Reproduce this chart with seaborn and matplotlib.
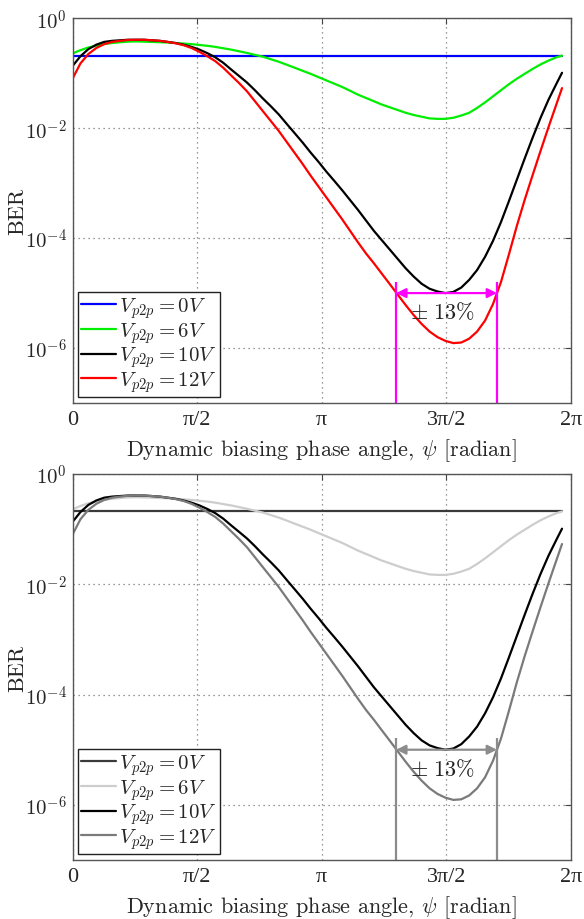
import numpy as np
import pandas as pd
import matplotlib
matplotlib.use("Agg")
import matplotlib.pyplot as plt
from matplotlib.ticker import NullLocator
import seaborn as sns

# ---------------- data ----------------
psi = [0.0, 0.1, 0.2, 0.3, 0.4, 0.5, 0.6, 0.7, 0.8, 0.9,
       1.0, 1.1, 1.2, 1.3, 1.4, 1.5, 1.6, 1.7, 1.8, 1.9,
       2.0, 2.1, 2.2, 2.3, 2.4, 2.5, 2.6, 2.7, 2.8, 2.9,
       3.0, 3.1, 3.2, 3.3, 3.4, 3.5, 3.6, 3.7, 3.8, 3.9,
       4.0, 4.1, 4.2, 4.3, 4.4, 4.5, 4.6, 4.7, 4.8, 4.9,
       5.0, 5.1, 5.2, 5.3, 5.4, 5.5, 5.6, 5.7, 5.8, 5.9,
       6.0, 6.1, 6.17]

psi_0V = [0.0, 6.17]
ber_0V = [0.21, 0.21]

ber_6V = [0.229, 0.263, 0.295, 0.316, 0.339, 0.355, 0.367, 0.376, 0.380, 0.376,
          0.372, 0.367, 0.363, 0.355, 0.347, 0.339, 0.327, 0.316, 0.302, 0.285,
          0.269, 0.251, 0.234, 0.216, 0.200, 0.180, 0.162, 0.143, 0.126, 0.111,
          0.0977, 0.0851, 0.0741, 0.0646, 0.0562, 0.0479, 0.0407, 0.0355, 0.0309, 0.0269,
          0.0240, 0.0214, 0.0191, 0.0174, 0.0162, 0.0151, 0.0148, 0.0148, 0.0155, 0.0170,
          0.0191, 0.0234, 0.0295, 0.0380, 0.0490, 0.0631, 0.0794, 0.0977, 0.120, 0.145,
          0.170, 0.195, 0.209]

ber_10V = [0.135, 0.204, 0.275, 0.331, 0.372, 0.389, 0.398, 0.407, 0.407, 0.407,
           0.398, 0.389, 0.372, 0.355, 0.331, 0.302, 0.269, 0.232, 0.195, 0.155,
           0.117, 0.0891, 0.0676, 0.0490, 0.0347, 0.0251, 0.0178, 0.0120, 8.13e-3, 5.50e-3,
           3.63e-3, 2.45e-3, 1.62e-3, 1.10e-3, 7.41e-4, 4.90e-4, 3.24e-4, 2.09e-4, 1.35e-4, 9.12e-5,
           6.17e-5, 4.17e-5, 2.82e-5, 2.00e-5, 1.48e-5, 1.20e-5, 1.07e-5, 1.00e-5, 1.05e-5, 1.26e-5,
           1.74e-5, 2.63e-5, 4.57e-5, 8.91e-5, 1.95e-4, 4.68e-4, 1.15e-3, 2.82e-3, 6.76e-3, 1.55e-2,
           3.31e-2, 6.46e-2, 0.102]

ber_12V = [0.0794, 0.151, 0.224, 0.288, 0.339, 0.372, 0.389, 0.403, 0.407, 0.407,
           0.398, 0.389, 0.372, 0.351, 0.324, 0.288, 0.245, 0.204, 0.166, 0.126,
           0.0912, 0.0661, 0.0468, 0.0309, 0.0204, 0.0135, 8.91e-3, 5.62e-3, 3.55e-3, 2.24e-3,
           1.38e-3, 8.71e-4, 5.50e-4, 3.47e-4, 2.19e-4, 1.35e-4, 8.32e-5, 5.25e-5, 3.47e-5, 2.24e-5,
           1.45e-5, 9.33e-6, 6.03e-6, 3.98e-6, 2.75e-6, 2.00e-6, 1.58e-6, 1.35e-6, 1.23e-6, 1.26e-6,
           1.48e-6, 2.00e-6, 3.16e-6, 6.31e-6, 1.58e-5, 5.01e-5, 1.66e-4, 5.01e-4, 1.41e-3, 3.89e-3,
           1.05e-2, 2.75e-2, 5.37e-2]

series_labels = [r"$V_{p2p} = 0V$", r"$V_{p2p} = 6V$",
                 r"$V_{p2p} = 10V$", r"$V_{p2p} = 12V$"]

band_psi = [4.08, 5.35]      # +-13 % band edges
band_top = 1.6e-5            # top of the vertical markers
band_arrow = 1.0e-5          # level of the double arrow
band_text = r"$\pm\ 13\%$"
band_text_pos = (4.66, 4.6e-6)

xtick_vals = [0, np.pi / 2, np.pi, 3 * np.pi / 2, 2 * np.pi]
xtick_labels = ["0", "π/2", "π", "3π/2", "2π"]
ytick_vals = [1e0, 1e-2, 1e-4, 1e-6]
ytick_labels = [r"$10^{0}$", r"$10^{-2}$", r"$10^{-4}$", r"$10^{-6}$"]

# ---------------- long table for seaborn ----------------
frames = [pd.DataFrame({"psi": psi_0V, "BER": ber_0V, "series": series_labels[0]}),
          pd.DataFrame({"psi": psi, "BER": ber_6V, "series": series_labels[1]}),
          pd.DataFrame({"psi": psi, "BER": ber_10V, "series": series_labels[2]}),
          pd.DataFrame({"psi": psi, "BER": ber_12V, "series": series_labels[3]})]
df = pd.concat(frames, ignore_index=True)

sns.set_theme(style="white")
plt.rcParams["font.family"] = ["cmr10", "DejaVu Serif"]
plt.rcParams["mathtext.fontset"] = "cm"
plt.rcParams["axes.unicode_minus"] = False
plt.rcParams["axes.formatter.use_mathtext"] = True

FS = 16
FS_TICK = 15
FS_LEG = 15
fig = plt.figure(figsize=(5.84, 9.2), dpi=100)
fig.patch.set_facecolor("white")

L, R = 72.5 / 584, 571 / 584
ax_top = fig.add_axes([L, 1 - 404 / 920, R - L, (404 - 19.3) / 920])
ax_bot = fig.add_axes([L, 1 - 861 / 920, R - L, (861 - 475) / 920])

palettes = [
    dict(zip(series_labels, ["#0000ff", "#00ee00", "#000000", "#ff0000"])),
    dict(zip(series_labels, ["#3a3a3a", "#cdcdcd", "#000000", "#7a7a7a"])),
]
band_colors = ["#ff00ff", "#8c8c8c"]

for ax, pal, bc in zip([ax_top, ax_bot], palettes, band_colors):
    sns.lineplot(data=df, x="psi", y="BER", hue="series", hue_order=series_labels,
                 palette=pal, estimator=None, sort=False, legend=False,
                 linewidth=1.6, ax=ax)
    ax.set_yscale("log")
    ax.set_xlim(0, 2 * np.pi)
    ax.set_ylim(1e-7, 1e0)
    ax.set_xticks(xtick_vals)
    ax.set_xticklabels(xtick_labels, fontfamily=["Liberation Serif"], fontsize=FS)
    ax.set_yticks(ytick_vals)
    ax.set_yticklabels(ytick_labels, fontsize=FS_TICK)
    ax.yaxis.set_minor_locator(NullLocator())
    ax.xaxis.set_minor_locator(NullLocator())
    ax.tick_params(direction="in", top=True, right=True, length=4, width=0.8,
                   color="#444444", pad=4)
    ax.tick_params(axis="x", pad=5)
    ax.grid(True, which="major", linestyle=(0, (1, 3)), color="#777777", linewidth=0.9)
    for sp in ax.spines.values():
        sp.set_color("#555555")
        sp.set_linewidth(1.0)
    ax.set_xlabel(r"Dynamic biasing phase angle, $\psi$ [radian]", fontsize=FS, labelpad=5)
    ax.set_ylabel("BER", fontsize=FS)
    ax.yaxis.set_label_coords(-0.09, 0.5)

    # +-13% band
    for xb in band_psi:
        ax.plot([xb, xb], [1e-7, band_top], color=bc, lw=1.6, solid_capstyle="butt")
    ax.annotate("", xy=(band_psi[1], band_arrow), xytext=(band_psi[0], band_arrow),
                arrowprops=dict(arrowstyle="<|-|>", color=bc, lw=1.6,
                                mutation_scale=14, shrinkA=0, shrinkB=0))
    ax.text(band_text_pos[0], band_text_pos[1], band_text, fontsize=FS,
            ha="center", va="center", color="#222222")

    leg = ax.legend(ax.get_lines()[:4], series_labels, loc="lower left",
                    bbox_to_anchor=(5.2 / 498.5, 5.7 / 384.7), borderaxespad=0,
                    fontsize=FS_LEG, frameon=True, fancybox=False, handlelength=1.7,
                    handletextpad=0.15, labelspacing=0.0, borderpad=0.15)
    leg.get_frame().set_edgecolor("#222222")
    leg.get_frame().set_linewidth(1.0)
    leg.get_frame().set_facecolor("white")
    leg.get_frame().set_alpha(1)

fig.savefig("out.png", dpi=100, facecolor="white")
